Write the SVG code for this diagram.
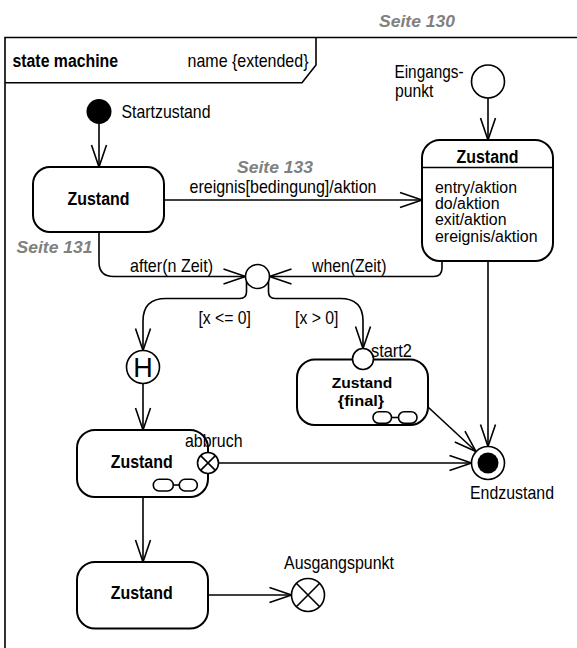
<svg xmlns="http://www.w3.org/2000/svg" width="577" height="648" viewBox="0 0 577 648">
<defs>
<style>
text{font-family:"Liberation Sans",Arial,sans-serif;font-size:18.5px;fill:#000}
.b{font-weight:bold;font-size:17.5px}
.c{text-anchor:middle}
.e{text-anchor:end}
.act{font-size:16px}
.fin{font-size:15.5px}
.ref{font-weight:bold;font-style:italic;fill:#808080;font-size:17px}
.box{fill:#fff;stroke:#000;stroke-width:2}
.ln{fill:none;stroke:#000;stroke-width:1.6}
.con{fill:none;stroke:#000;stroke-width:1.6;marker-end:url(#arr)}
.ico{fill:#fff;stroke:#000;stroke-width:1.6}
</style>
<marker id="arr" viewBox="-25 -10 30 20" refX="0" refY="0" markerWidth="30" markerHeight="20" markerUnits="userSpaceOnUse" orient="auto">
<path d="M-22,-7.5 L0,0 L-22,7.5" fill="none" stroke="#000" stroke-width="1.6"/>
</marker>
</defs>
<rect width="577" height="648" fill="#fff"/>

<g id="frame">
<path class="ln" d="M5,660 V37.5 H590"/>
<path class="ln" d="M5,82.7 H302 L316,65 V37.5"/>
<text x="12.5" y="66.5" class="b" textLength="105.5" lengthAdjust="spacingAndGlyphs">state machine</text>
<text x="187.5" y="66.5" textLength="121" lengthAdjust="spacingAndGlyphs">name {extended}</text>
</g>

<g id="references">
<text x="379" y="26.5" class="ref" textLength="76" lengthAdjust="spacingAndGlyphs">Seite 130</text>
<text x="237" y="173" class="ref" textLength="76" lengthAdjust="spacingAndGlyphs">Seite 133</text>
<text x="16.5" y="253" class="ref" textLength="76" lengthAdjust="spacingAndGlyphs">Seite 131</text>
</g>

<g id="connectors">
<path class="con" d="M99,124 V167"/>
<path class="con" d="M488,98 V140"/>
<path class="con" d="M164,200 H422"/>
<path class="con" d="M99,232 V262 Q99,276.5 113.5,276.5 H245.5"/>
<path class="con" d="M442,261 V268 Q442,276.5 433.5,276.5 H269.5"/>
<path class="con" d="M246.5,281 V292 Q246.5,298.5 240,298.5 H166 Q143,298.5 143,321 V350.5"/>
<path class="con" d="M268.5,281 V292 Q268.5,298.5 275,298.5 H340 Q363,298.5 363,321 V348.5"/>
<path class="con" d="M143,383.5 V430"/>
<path class="con" d="M488,261 V446.5"/>
<path class="con" d="M428,407 L476,451.5"/>
<path class="con" d="M219,463 H471.5"/>
<path class="con" d="M143,497 V562"/>
<path class="con" d="M208,595 H291.5"/>
<text x="189.5" y="193" textLength="187" lengthAdjust="spacingAndGlyphs">ereignis[bedingung]/aktion</text>
<text x="130" y="272" textLength="83" lengthAdjust="spacingAndGlyphs">after(n Zeit)</text>
<text x="312" y="272" textLength="74.5" lengthAdjust="spacingAndGlyphs">when(Zeit)</text>
<text x="198.5" y="323.5" textLength="52.5" lengthAdjust="spacingAndGlyphs">[x &lt;= 0]</text>
<text x="295" y="323.5" textLength="43.5" lengthAdjust="spacingAndGlyphs">[x &gt; 0]</text>
</g>

<g id="startzustand">
<circle cx="99" cy="111.5" r="12.5" fill="#000"/>
<text x="121.5" y="118" textLength="89" lengthAdjust="spacingAndGlyphs">Startzustand</text>
</g>

<g id="eingangspunkt">
<circle cx="488" cy="81.5" r="16.5" class="ico"/>
<text x="463.5" y="77.5" class="e" textLength="69" lengthAdjust="spacingAndGlyphs">Eingangs-</text>
<text x="395" y="96.5" textLength="38.5" lengthAdjust="spacingAndGlyphs">punkt</text>
</g>

<g id="zustand1">
<rect x="33" y="167" width="131" height="65" rx="17" class="box"/>
<text x="98.5" y="205" class="b c" textLength="62" lengthAdjust="spacingAndGlyphs">Zustand</text>
</g>

<g id="zustand2">
<rect x="422" y="140" width="131" height="121" rx="18" class="box"/>
<path class="ln" d="M422,167.5 H553"/>
<text x="487.5" y="162.5" class="b c" textLength="62" lengthAdjust="spacingAndGlyphs">Zustand</text>
<text x="435" y="193" class="act" textLength="82" lengthAdjust="spacingAndGlyphs">entry/aktion</text>
<text x="435" y="209.2" class="act" textLength="64.5" lengthAdjust="spacingAndGlyphs">do/aktion</text>
<text x="435" y="225.4" class="act" textLength="71.5" lengthAdjust="spacingAndGlyphs">exit/aktion</text>
<text x="435" y="241.6" class="act" textLength="102.5" lengthAdjust="spacingAndGlyphs">ereignis/aktion</text>
</g>

<g id="kreuzung">
<circle cx="257.5" cy="276.5" r="12" class="ico"/>
</g>

<g id="historie">
<circle cx="143" cy="367" r="16.5" class="ico"/>
<text x="143" y="377" class="c" style="font-size:27px">H</text>
</g>

<g id="zustand-final">
<rect x="297" y="359.5" width="131" height="65.5" rx="18" class="box"/>
<text x="362" y="387.5" class="b c fin" textLength="60.5" lengthAdjust="spacingAndGlyphs">Zustand</text>
<text x="361" y="405.5" class="b c fin" textLength="46.5" lengthAdjust="spacingAndGlyphs">{final}</text>
<path class="ln" d="M391.5,417.5 H398.5"/>
<rect x="373" y="411.7" width="18.5" height="11.6" rx="5.8" class="ico"/>
<rect x="398.5" y="411.7" width="18.5" height="11.6" rx="5.8" class="ico"/>
</g>

<g id="start2">
<circle cx="363" cy="359" r="10.5" class="ico"/>
<text x="371" y="356.5" textLength="41" lengthAdjust="spacingAndGlyphs">start2</text>
</g>

<g id="zustand3">
<rect x="77" y="430" width="131" height="67" rx="18" class="box"/>
<text x="141.7" y="467.5" class="b c" textLength="62" lengthAdjust="spacingAndGlyphs">Zustand</text>
<path class="ln" d="M173.3,485 H179.3"/>
<rect x="153.3" y="479.3" width="20" height="11.7" rx="5.8" class="ico"/>
<rect x="179.3" y="479.3" width="18" height="11.7" rx="5.8" class="ico"/>
</g>

<g id="abbruch">
<circle cx="208" cy="463" r="10.5" class="ico"/>
<path class="ln" d="M200.6,455.6 L215.4,470.4 M215.4,455.6 L200.6,470.4"/>
<text x="185" y="446.5" textLength="57.5" lengthAdjust="spacingAndGlyphs">abbruch</text>
</g>

<g id="endzustand">
<circle cx="488" cy="463" r="16.5" class="ico"/>
<circle cx="488" cy="463" r="10.5" fill="#000"/>
<text x="470" y="498.5" textLength="84" lengthAdjust="spacingAndGlyphs">Endzustand</text>
</g>

<g id="zustand4">
<rect x="77" y="562" width="131" height="66.5" rx="18" class="box"/>
<text x="141.7" y="599" class="b c" textLength="62" lengthAdjust="spacingAndGlyphs">Zustand</text>
</g>

<g id="ausgangspunkt">
<circle cx="308" cy="595" r="16.5" class="ico"/>
<path class="ln" d="M296.3,583.3 L319.7,606.7 M319.7,583.3 L296.3,606.7"/>
<text x="284" y="568.5" textLength="110" lengthAdjust="spacingAndGlyphs">Ausgangspunkt</text>
</g>
</svg>
